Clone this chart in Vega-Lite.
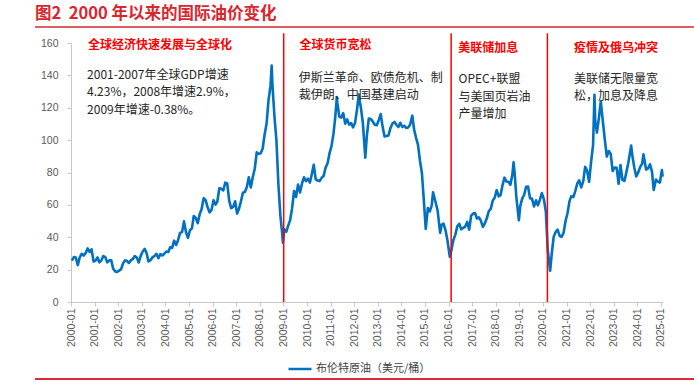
{
"$schema":"https://vega.github.io/schema/vega-lite/v6.json",
"width":592,"height":259,
"autosize":{"type":"none"},
"padding":{"left":71,"top":43,"right":31,"bottom":83},
"background":"white",
"title":{"text":"图2\u00a0\u00a02000 年以来的国际油价变化","anchor":"start","frame":"group","dx":-36,"offset":4,"fontSize":16.5,"fontWeight":"bold","color":"#D9262F","font":"Noto Sans CJK SC"},
"config":{"view":{"stroke":null},"font":"Liberation Sans",
"axisY":{"title":null,"labelOverlap":false,"labelFlush":false,"labelFontSize":10.5,"labelColor":"#595959","labelPadding":9,"domainColor":"#c8c8c8","tickColor":"#c8c8c8","tickSize":4,"grid":false},
"axisX":{"title":null,"labelAngle":-90,"labelFontSize":10.5,"labelColor":"#595959","labelPadding":2,"domainColor":"#c8c8c8","tickColor":"#c8c8c8","tickSize":4,"grid":false,"labelFlush":false,"labelOverlap":false}},
"layer":[
{"data":{"values":[
{"d":"2000-01-15","p":25.5},{"d":"2000-02-15","p":27.8},{"d":"2000-03-15","p":27.5},{"d":"2000-04-15","p":22.8},{"d":"2000-05-15","p":27.6},{"d":"2000-06-15","p":29.8},{"d":"2000-07-15","p":28.7},{"d":"2000-08-15","p":30.2},{"d":"2000-09-15","p":33.1},{"d":"2000-10-15","p":30.9},{"d":"2000-11-15","p":32.5},{"d":"2000-12-15","p":25.0},
{"d":"2001-01-15","p":25.6},{"d":"2001-02-15","p":27.5},{"d":"2001-03-15","p":24.5},{"d":"2001-04-15","p":25.7},{"d":"2001-05-15","p":28.4},{"d":"2001-06-15","p":27.7},{"d":"2001-07-15","p":24.5},{"d":"2001-08-15","p":25.7},{"d":"2001-09-15","p":25.7},{"d":"2001-10-15","p":20.5},{"d":"2001-11-15","p":18.9},{"d":"2001-12-15","p":18.6},
{"d":"2002-01-15","p":19.4},{"d":"2002-02-15","p":20.3},{"d":"2002-03-15","p":23.7},{"d":"2002-04-15","p":25.7},{"d":"2002-05-15","p":25.4},{"d":"2002-06-15","p":24.1},{"d":"2002-07-15","p":25.7},{"d":"2002-08-15","p":26.6},{"d":"2002-09-15","p":28.4},{"d":"2002-10-15","p":27.5},{"d":"2002-11-15","p":24.4},{"d":"2002-12-15","p":28.5},
{"d":"2003-01-15","p":31.2},{"d":"2003-02-15","p":32.8},{"d":"2003-03-15","p":30.3},{"d":"2003-04-15","p":25.0},{"d":"2003-05-15","p":25.8},{"d":"2003-06-15","p":27.6},{"d":"2003-07-15","p":28.4},{"d":"2003-08-15","p":29.8},{"d":"2003-09-15","p":27.1},{"d":"2003-10-15","p":29.6},{"d":"2003-11-15","p":28.8},{"d":"2003-12-15","p":29.8},
{"d":"2004-01-15","p":31.2},{"d":"2004-02-15","p":30.9},{"d":"2004-03-15","p":33.8},{"d":"2004-04-15","p":33.4},{"d":"2004-05-15","p":37.9},{"d":"2004-06-15","p":35.2},{"d":"2004-07-15","p":38.2},{"d":"2004-08-15","p":42.7},{"d":"2004-09-15","p":43.2},{"d":"2004-10-15","p":49.8},{"d":"2004-11-15","p":43.1},{"d":"2004-12-15","p":39.6},
{"d":"2005-01-15","p":44.3},{"d":"2005-02-15","p":45.5},{"d":"2005-03-15","p":53.1},{"d":"2005-04-15","p":51.9},{"d":"2005-05-15","p":48.7},{"d":"2005-06-15","p":54.3},{"d":"2005-07-15","p":57.5},{"d":"2005-08-15","p":64.1},{"d":"2005-09-15","p":62.9},{"d":"2005-10-15","p":58.5},{"d":"2005-11-15","p":55.4},{"d":"2005-12-15","p":56.9},
{"d":"2006-01-15","p":62.9},{"d":"2006-02-15","p":60.2},{"d":"2006-03-15","p":62.1},{"d":"2006-04-15","p":70.3},{"d":"2006-05-15","p":70.0},{"d":"2006-06-15","p":68.9},{"d":"2006-07-15","p":73.7},{"d":"2006-08-15","p":73.2},{"d":"2006-09-15","p":62.5},{"d":"2006-10-15","p":58.0},{"d":"2006-11-15","p":58.8},{"d":"2006-12-15","p":62.2},
{"d":"2007-01-15","p":54.6},{"d":"2007-02-15","p":57.8},{"d":"2007-03-15","p":62.1},{"d":"2007-04-15","p":67.5},{"d":"2007-05-15","p":67.9},{"d":"2007-06-15","p":71.1},{"d":"2007-07-15","p":77.0},{"d":"2007-08-15","p":70.8},{"d":"2007-09-15","p":77.2},{"d":"2007-10-15","p":82.3},{"d":"2007-11-15","p":92.5},{"d":"2007-12-15","p":91.5},
{"d":"2008-01-15","p":91.9},{"d":"2008-02-15","p":94.8},{"d":"2008-03-15","p":103.3},{"d":"2008-04-15","p":110.2},{"d":"2008-05-15","p":124.6},{"d":"2008-06-15","p":133.5},{"d":"2008-07-03","p":146.1},{"d":"2008-07-15","p":134.0},{"d":"2008-08-15","p":114.6},{"d":"2008-09-15","p":99.6},{"d":"2008-10-15","p":72.7},{"d":"2008-11-15","p":53.2},{"d":"2008-12-15","p":41.6},{"d":"2008-12-24","p":36.6},
{"d":"2009-01-15","p":44.9},{"d":"2009-02-15","p":43.4},{"d":"2009-03-15","p":47.1},{"d":"2009-04-15","p":50.6},{"d":"2009-05-15","p":57.9},{"d":"2009-06-15","p":68.6},{"d":"2009-07-15","p":64.9},{"d":"2009-08-15","p":72.5},{"d":"2009-09-15","p":67.7},{"d":"2009-10-15","p":73.2},{"d":"2009-11-15","p":77.0},{"d":"2009-12-15","p":74.7},
{"d":"2010-01-15","p":76.2},{"d":"2010-02-15","p":73.8},{"d":"2010-03-15","p":78.8},{"d":"2010-04-15","p":84.8},{"d":"2010-05-15","p":75.9},{"d":"2010-06-15","p":75.0},{"d":"2010-07-15","p":74.7},{"d":"2010-08-15","p":76.7},{"d":"2010-09-15","p":77.8},{"d":"2010-10-15","p":82.9},{"d":"2010-11-15","p":85.7},{"d":"2010-12-15","p":91.8},
{"d":"2011-01-15","p":96.3},{"d":"2011-02-15","p":104.0},{"d":"2011-03-15","p":114.6},{"d":"2011-04-08","p":126.6},{"d":"2011-04-15","p":123.3},{"d":"2011-05-15","p":114.5},{"d":"2011-06-15","p":113.9},{"d":"2011-07-15","p":116.7},{"d":"2011-08-15","p":110.2},{"d":"2011-09-15","p":112.8},{"d":"2011-10-15","p":109.6},{"d":"2011-11-15","p":110.5},{"d":"2011-12-15","p":107.9},
{"d":"2012-01-15","p":110.7},{"d":"2012-02-15","p":119.3},{"d":"2012-03-13","p":128.1},{"d":"2012-03-20","p":125.5},{"d":"2012-04-15","p":119.8},{"d":"2012-05-15","p":110.3},{"d":"2012-06-21","p":89.2},{"d":"2012-07-15","p":102.6},{"d":"2012-08-15","p":113.4},{"d":"2012-09-15","p":113.0},{"d":"2012-10-15","p":111.5},{"d":"2012-11-15","p":109.5},{"d":"2012-12-15","p":109.2},
{"d":"2013-01-15","p":112.3},{"d":"2013-02-15","p":116.1},{"d":"2013-03-15","p":108.5},{"d":"2013-04-15","p":102.3},{"d":"2013-05-15","p":102.6},{"d":"2013-06-15","p":102.9},{"d":"2013-07-15","p":107.4},{"d":"2013-08-15","p":110.3},{"d":"2013-09-15","p":111.2},{"d":"2013-10-15","p":109.5},{"d":"2013-11-15","p":108.1},{"d":"2013-12-15","p":110.7},
{"d":"2014-01-15","p":108.1},{"d":"2014-02-15","p":108.9},{"d":"2014-03-15","p":107.5},{"d":"2014-04-15","p":107.8},{"d":"2014-05-15","p":109.5},{"d":"2014-06-19","p":115.1},{"d":"2014-07-15","p":106.8},{"d":"2014-08-15","p":101.6},{"d":"2014-09-15","p":97.1},{"d":"2014-10-15","p":87.4},{"d":"2014-11-15","p":79.4},{"d":"2014-12-15","p":62.3},
{"d":"2015-01-13","p":45.2},{"d":"2015-02-15","p":58.1},{"d":"2015-03-15","p":55.9},{"d":"2015-04-15","p":59.5},{"d":"2015-05-06","p":67.8},{"d":"2015-06-15","p":61.5},{"d":"2015-07-15","p":56.6},{"d":"2015-08-24","p":42.7},{"d":"2015-09-15","p":47.6},{"d":"2015-10-15","p":48.4},{"d":"2015-11-15","p":44.3},{"d":"2015-12-15","p":38.0},
{"d":"2016-01-20","p":27.9},{"d":"2016-02-15","p":32.2},{"d":"2016-03-15","p":38.2},{"d":"2016-04-15","p":41.6},{"d":"2016-05-15","p":46.7},{"d":"2016-06-15","p":48.3},{"d":"2016-07-15","p":44.9},{"d":"2016-08-15","p":45.8},{"d":"2016-09-15","p":46.6},{"d":"2016-10-15","p":49.5},{"d":"2016-11-15","p":44.7},{"d":"2016-12-15","p":53.3},
{"d":"2017-01-15","p":54.6},{"d":"2017-02-15","p":54.9},{"d":"2017-03-15","p":51.6},{"d":"2017-04-15","p":52.3},{"d":"2017-05-15","p":50.3},{"d":"2017-06-15","p":46.4},{"d":"2017-07-15","p":48.5},{"d":"2017-08-15","p":51.7},{"d":"2017-09-15","p":56.2},{"d":"2017-10-15","p":57.5},{"d":"2017-11-15","p":62.7},{"d":"2017-12-15","p":64.4},
{"d":"2018-01-15","p":69.1},{"d":"2018-02-15","p":65.3},{"d":"2018-03-15","p":66.0},{"d":"2018-04-15","p":72.1},{"d":"2018-05-15","p":76.8},{"d":"2018-06-15","p":74.4},{"d":"2018-07-15","p":74.3},{"d":"2018-08-15","p":72.5},{"d":"2018-09-15","p":78.9},{"d":"2018-10-03","p":86.3},{"d":"2018-10-20","p":79.5},{"d":"2018-11-15","p":64.8},{"d":"2018-12-24","p":50.5},
{"d":"2019-01-15","p":59.4},{"d":"2019-02-15","p":64.0},{"d":"2019-03-15","p":66.1},{"d":"2019-04-15","p":71.2},{"d":"2019-05-15","p":71.3},{"d":"2019-06-15","p":64.0},{"d":"2019-07-15","p":63.9},{"d":"2019-08-15","p":59.0},{"d":"2019-09-15","p":62.8},{"d":"2019-10-15","p":59.7},{"d":"2019-11-15","p":63.2},{"d":"2019-12-15","p":67.3},
{"d":"2020-01-15","p":63.6},{"d":"2020-02-15","p":55.7},{"d":"2020-03-15","p":32.0},{"d":"2020-04-21","p":19.3},{"d":"2020-05-15","p":29.4},{"d":"2020-06-15","p":40.3},{"d":"2020-07-15","p":43.2},{"d":"2020-08-15","p":44.7},{"d":"2020-09-15","p":40.9},{"d":"2020-10-15","p":40.2},{"d":"2020-11-15","p":42.7},{"d":"2020-12-15","p":49.9},
{"d":"2021-01-15","p":54.8},{"d":"2021-02-15","p":62.3},{"d":"2021-03-15","p":65.4},{"d":"2021-04-15","p":64.8},{"d":"2021-05-15","p":68.5},{"d":"2021-06-15","p":73.2},{"d":"2021-07-15","p":75.2},{"d":"2021-08-15","p":70.8},{"d":"2021-09-15","p":74.5},{"d":"2021-10-15","p":83.5},{"d":"2021-11-15","p":81.1},{"d":"2021-12-15","p":74.2},
{"d":"2022-01-15","p":86.5},{"d":"2022-02-15","p":97.1},{"d":"2022-03-08","p":128.0},{"d":"2022-03-20","p":112.0},{"d":"2022-04-15","p":104.6},{"d":"2022-05-15","p":113.3},{"d":"2022-06-14","p":124.0},{"d":"2022-07-15","p":111.9},{"d":"2022-08-15","p":100.5},{"d":"2022-09-15","p":89.8},{"d":"2022-10-15","p":93.3},{"d":"2022-11-15","p":91.4},{"d":"2022-12-15","p":80.9},
{"d":"2023-01-15","p":83.1},{"d":"2023-02-15","p":82.9},{"d":"2023-03-17","p":73.0},{"d":"2023-04-15","p":84.6},{"d":"2023-05-15","p":75.5},{"d":"2023-06-15","p":74.8},{"d":"2023-07-15","p":80.1},{"d":"2023-08-15","p":86.2},{"d":"2023-09-27","p":96.6},{"d":"2023-10-15","p":90.6},{"d":"2023-11-15","p":82.9},{"d":"2023-12-15","p":77.6},
{"d":"2024-01-15","p":80.1},{"d":"2024-02-15","p":83.5},{"d":"2024-03-15","p":85.4},{"d":"2024-04-05","p":91.2},{"d":"2024-05-15","p":81.8},{"d":"2024-06-15","p":82.6},{"d":"2024-07-15","p":85.1},{"d":"2024-08-15","p":80.4},{"d":"2024-09-10","p":69.2},{"d":"2024-10-15","p":75.6},{"d":"2024-11-15","p":74.4},{"d":"2024-12-15","p":73.8},
{"d":"2025-01-15","p":81.5},{"d":"2025-01-27","p":77.5}
]},
"transform":[{"calculate":"'布伦特原油（美元/桶）'","as":"s"}],
"mark":{"type":"line","strokeWidth":2.6,"strokeJoin":"round"},
"encoding":{
"x":{"field":"d","type":"temporal","scale":{"domain":[{"year":2000,"month":1,"date":1},{"year":2025,"month":2,"date":1}]},
"axis":{"format":"%Y-%m","tickCount":{"interval":"year","step":1}}},
"y":{"field":"p","type":"quantitative","scale":{"domain":[0,160],"nice":false},
"axis":{"tickCount":8}},
"color":{"field":"s","type":"nominal","scale":{"range":["#0070C0"]},
"legend":{"title":null,"orient":"none","legendX":216,"legendY":313,"symbolType":"stroke","symbolSize":529,"symbolStrokeWidth":2.5,"labelFontSize":11,"labelColor":"#404040","labelFont":"Noto Sans CJK SC","labelOffset":3}}
}},
{"data":{"values":[{"d":"2009-01-05"},{"d":"2016-02-10"},{"d":"2020-03-10"}]},
"mark":{"type":"rule","color":"#FF0000","strokeWidth":1.5},
"encoding":{"x":{"field":"d","type":"temporal"},"y":{"datum":0,"type":"quantitative"},"y2":{"datum":166}}},
{"data":{"values":[
{"d":"2000-09-21","p":158.8,"t":"全球经济快速发展与全球化"},
{"d":"2009-09-06","p":158.8,"t":"全球货币宽松"},
{"d":"2016-05-30","p":156.7,"t":"美联储加息"},
{"d":"2021-04-27","p":156.7,"t":"疫情及俄乌冲突"}
]},
"mark":{"type":"text","align":"left","baseline":"middle","font":"Noto Sans CJK SC","fontSize":12,"fontWeight":"bold","color":"#FF0000"},
"encoding":{"x":{"field":"d","type":"temporal"},"y":{"field":"p","type":"quantitative"},"text":{"field":"t"}}},
{"data":{"values":[
{"d":"2000-09-06","p":140.2,"t":"2001-2007年全球GDP增速"},
{"d":"2000-09-06","p":129.5,"t":"4.23%，2008年增速2.9%，"},
{"d":"2000-09-06","p":118.6,"t":"2009年增速-0.38%。"},
{"d":"2009-08-28","p":138.2,"t":"伊斯兰革命、欧债危机、制"},
{"d":"2009-08-28","p":127.9,"t":"裁伊朗、中国基建启动"},
{"d":"2016-06-03","p":137.8,"t":"OPEC+联盟"},
{"d":"2016-06-03","p":126.8,"t":"与美国页岩油"},
{"d":"2016-06-03","p":116.1,"t":"产量增加"},
{"d":"2021-04-27","p":137.8,"t":"美联储无限量宽"},
{"d":"2021-04-27","p":127.3,"t":"松，加息及降息"}
]},
"mark":{"type":"text","align":"left","baseline":"middle","font":"Noto Sans CJK SC","fontSize":12,"color":"#262626"},
"encoding":{"x":{"field":"d","type":"temporal"},"y":{"field":"p","type":"quantitative"},"text":{"field":"t"}}},
{"data":{"values":[{"k":"top"}]},
"mark":{"type":"rule","color":"#D9262F","strokeWidth":1.5},
"encoding":{"x":{"value":-36},"x2":{"value":623},"y":{"value":-16}}},
{"data":{"values":[{"k":"bottom"}]},
"mark":{"type":"rule","color":"#E0283A","strokeWidth":2},
"encoding":{"x":{"value":-36},"x2":{"value":623},"y":{"value":336}}}
]
}
